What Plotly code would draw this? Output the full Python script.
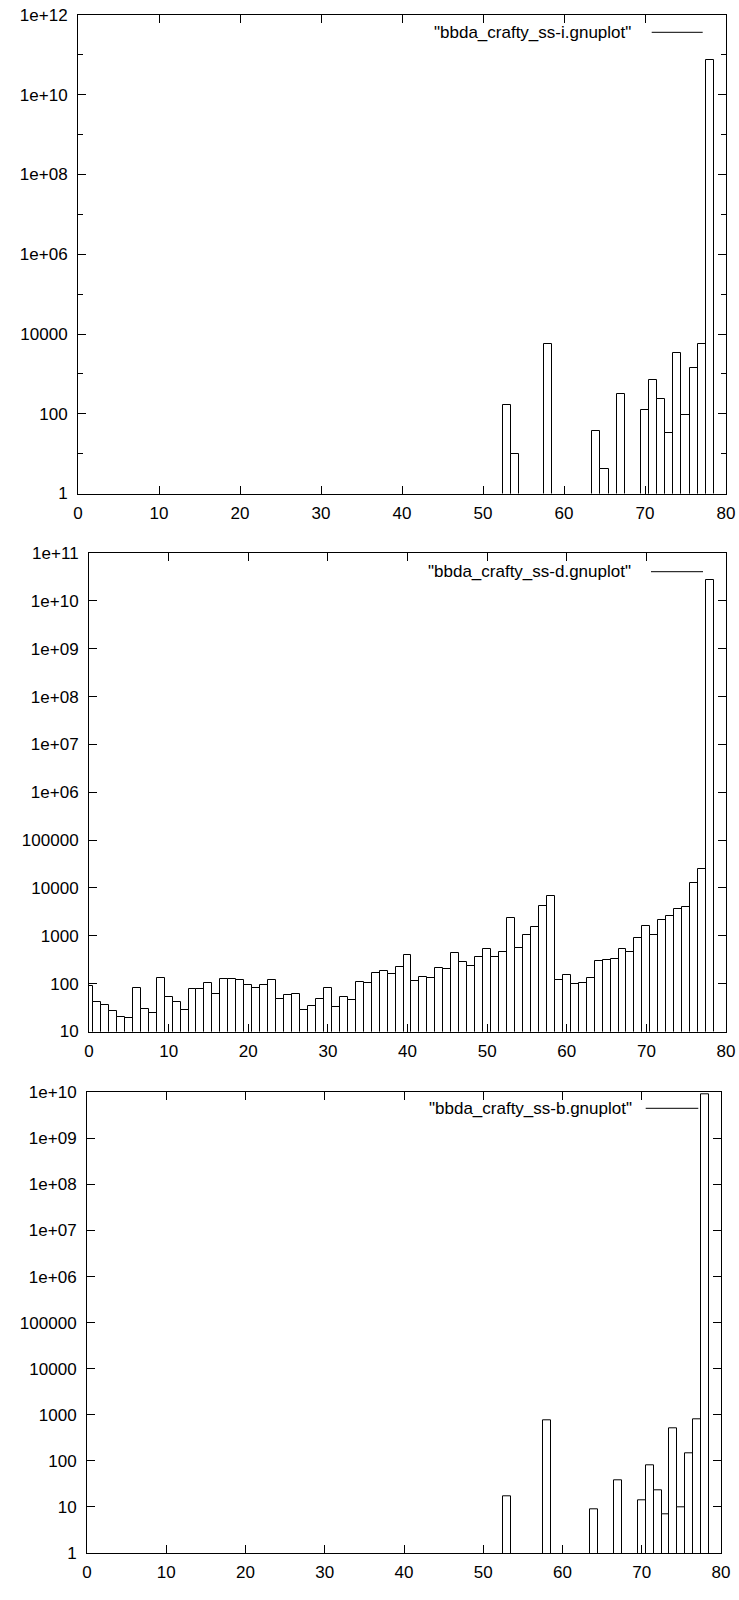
import plotly.graph_objects as go

# ---------------- data ----------------
i_bins = [53, 54, 58, 64, 65, 67, 70, 71, 72, 73, 74, 75, 76, 77, 78]
i_counts = [170, 10, 5500, 37, 4, 320, 125, 720, 230, 33, 3400, 95, 1400, 5500, 7.6e10]

d_bins = list(range(0, 79))
d_counts = [89, 41, 36, 27, 20, 19, 80, 29, 24, 129,
            52, 41, 28, 76, 77, 103, 62, 125, 125, 121,
            92, 83, 92, 121, 47, 57, 60, 28, 34, 48,
            82, 32, 52, 45, 106, 101, 166, 186, 161, 225,
            390, 115, 135, 133, 208, 199, 442, 278, 233, 354,
            520, 354, 450, 2340, 553, 1020, 1500, 4100, 6840, 117,
            149, 100, 104, 133, 296, 305, 322, 520, 463, 882,
            1620, 1050, 2130, 2580, 3550, 4030, 13000, 25000, 2.75e10]

b_bins = [53, 58, 64, 67, 70, 71, 72, 73, 74, 75, 76, 77, 78]
b_counts = [16.7, 745, 8.9, 38, 13.7, 80, 23, 6.9, 500, 9.6, 146, 800, 9e9]

x_ticks = [0, 10, 20, 30, 40, 50, 60, 70, 80]

y1_ticks = [1, 1e2, 1e4, 1e6, 1e8, 1e10, 1e12]
y1_text = ["1", "100", "10000", "1e+06", "1e+08", "1e+10", "1e+12"]
y1_minor = [10, 1e3, 1e5, 1e7, 1e9, 1e11]

y2_ticks = [10, 100, 1e3, 1e4, 1e5, 1e6, 1e7, 1e8, 1e9, 1e10, 1e11]
y2_text = ["10", "100", "1000", "10000", "100000", "1e+06", "1e+07",
           "1e+08", "1e+09", "1e+10", "1e+11"]

y3_ticks = [1, 10, 100, 1e3, 1e4, 1e5, 1e6, 1e7, 1e8, 1e9, 1e10]
y3_text = ["1", "10", "100", "1000", "10000", "100000", "1e+06", "1e+07",
           "1e+08", "1e+09", "1e+10"]

titles = ['"bbda_crafty_ss-i.gnuplot"', '"bbda_crafty_ss-d.gnuplot"',
          '"bbda_crafty_ss-b.gnuplot"']

# ---------------- layout geometry ----------------
W, H = 739, 1600
FONT = "Liberation Sans, Arial, Helvetica, sans-serif"


def px(x):
    return x / W


def py(y):
    return 1 - y / H


panels = [
    dict(l=78, r=726, t=15, b=493.5, yr=[0, 12]),
    dict(l=89, r=726, t=553, b=1031.5, yr=[1, 11]),
    dict(l=87, r=721, t=1092.3, b=1553, yr=[0, 10]),
]
legend_pos = [
    dict(tx=633, l0=651.7, l1=702.7, y=32.3),
    dict(tx=633, l0=651, l1=703, y=571.7),
    dict(tx=634, l0=645.7, l1=698.3, y=1108.3),
]

fig = go.Figure()

series = [(i_bins, i_counts), (d_bins, d_counts), (b_bins, b_counts)]
for k, (xs, ys) in enumerate(series):
    n = "" if k == 0 else str(k + 1)
    fig.add_trace(go.Bar(
        x=xs, y=ys, width=1.0,
        marker=dict(color="white", line=dict(color="black", width=1)),
        xaxis="x" + n, yaxis="y" + n, showlegend=False,
    ))

axis_common = dict(
    showline=True, linecolor="black", linewidth=1, mirror="ticks",
    ticks="inside", tickcolor="black", tickwidth=1,
    showgrid=False, zeroline=False, automargin=False,
    tickfont=dict(family=FONT, size=17, color="black"),
)

ycfg = [
    dict(tickvals=y1_ticks, ticktext=y1_text,
         minor=dict(tickvals=y1_minor, ticks="inside", ticklen=5,
                    tickcolor="black", tickwidth=1, showgrid=False)),
    dict(tickvals=y2_ticks, ticktext=y2_text),
    dict(tickvals=y3_ticks, ticktext=y3_text),
]

layout = dict(
    template="none",
    width=W, height=H, margin=dict(l=0, r=0, t=0, b=0, pad=0),
    autosize=False,
    paper_bgcolor="white", plot_bgcolor="white",
    bargap=0, showlegend=False,
    font=dict(family=FONT, size=17, color="black"),
)

shapes = []
annotations = []
for k, p in enumerate(panels):
    n = "" if k == 0 else str(k + 1)
    layout["xaxis" + n] = dict(
        axis_common, domain=[px(p["l"]), px(p["r"])], range=[0, 80],
        tickmode="array", tickvals=x_ticks, ticklen=8,
        ticklabelstandoff=4, anchor="y" + n,
    )
    layout["yaxis" + n] = dict(
        axis_common, type="log", range=p["yr"],
        domain=[py(p["b"]), py(p["t"])], tickmode="array", ticklen=8,
        ticklabelstandoff=6, anchor="x" + n, **ycfg[k],
    )
    lp = legend_pos[k]
    annotations.append(dict(
        text=titles[k], xref="paper", yref="paper",
        x=px(lp["tx"]), y=py(lp["y"]), xanchor="right", yanchor="middle",
        showarrow=False, font=dict(family=FONT, size=17, color="black"),
    ))
    shapes.append(dict(
        type="line", xref="paper", yref="paper",
        x0=px(lp["l0"]), x1=px(lp["l1"]), y0=py(lp["y"]), y1=py(lp["y"]),
        line=dict(color="black", width=1),
    ))

layout["shapes"] = shapes
layout["annotations"] = annotations
fig.update_layout(**layout)

fig.write_html(
    "out.html",
    config={"responsive": False, "displayModeBar": False},
    post_script="document.body.style.margin='0';document.body.style.padding='0';",
)
